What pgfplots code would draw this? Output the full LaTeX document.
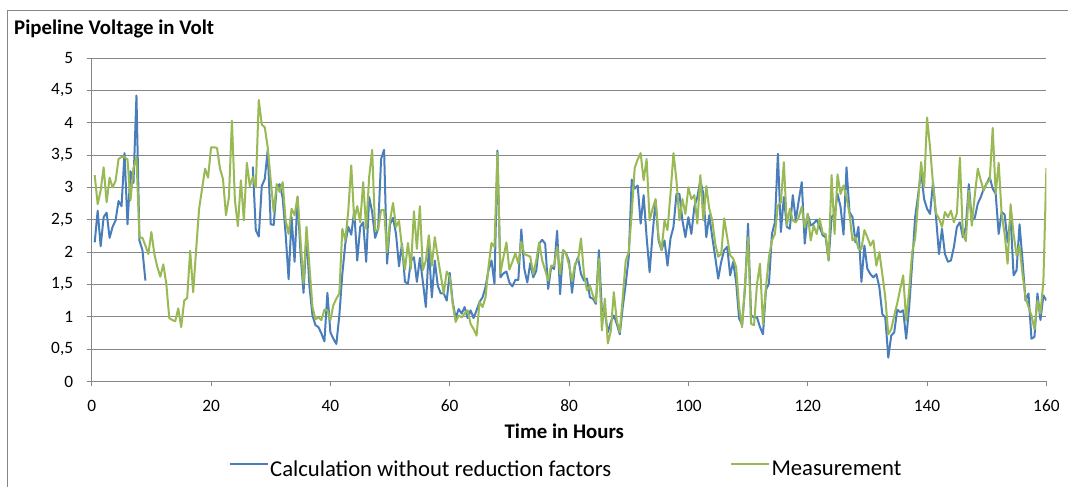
\documentclass[border=0pt]{standalone}
\usepackage{fontspec}
\setmainfont{Carlito}
\usepackage{pgfplots}
\pgfplotsset{compat=1.18}
\definecolor{serblue}{HTML}{4A7EBB}
\definecolor{sergreen}{HTML}{98B954}
\definecolor{axgray}{HTML}{868686}
\begin{document}
\begin{tikzpicture}
\path[use as bounding box, fill=white] (-68.78pt,-79.1pt) rectangle (732.2pt,286.1pt);
\draw[axgray, line width=0.75pt] (-63.3pt,-79.1pt) -- (-63.3pt,278.6pt) -- (732.2pt,278.6pt);
\begin{axis}[
  at={(0,0)}, anchor=south west,
  scale only axis, width=716pt, height=242.6pt,
  xmin=0, xmax=160, ymin=0, ymax=5,
  xtick={0,20,...,160}, ytick={0,0.5,...,5},
  axis lines*=left,
  axis line style={axgray, line width=0.75pt, -},
  tick align=outside, major tick length=3.75pt,
  tick style={axgray, line width=0.75pt},
  ymajorgrids, grid style={axgray, line width=0.75pt},
  /pgf/number format/assume math mode=true,
  /pgf/number format/use comma,
  ticklabel style={font=\fontsize{13}{15}\selectfont, inner sep=0pt},
  xticklabel shift=10pt, yticklabel shift=10pt,
  xlabel={Time in Hours},
  xlabel style={at={(rel axis cs:0.495,0)}, anchor=base, yshift=-42.4pt, font=\bfseries\fontsize{15.6}{18}\selectfont},
  legend columns=2,
  legend style={draw=none, fill=none, at={(rel axis cs:0.1438,0)}, anchor=west, yshift=-66pt,
    font=\fontsize{17}{19}\selectfont, inner sep=0pt,
    nodes={inner sep=1pt},
    /tikz/every even column/.append style={column sep=88.5pt}},
  legend image code/.code={\draw[#1, line width=1.2pt] (0pt,4pt) -- (28.5pt,4pt);},
  every axis plot/.append style={line width=1.5pt, line join=round},
]
\addplot[serblue, no marks, forget plot] coordinates {
(0.5,2.15) (1,2.64) (1.5,2.09) (2,2.54) (2.5,2.61) (3,2.22) (3.5,2.39) (4,2.49) (4.5,2.79) (5,2.71)
(5.5,3.53) (6,2.43) (6.5,3.25) (7,3.07) (7.5,4.42) (8,2.18) (8.5,2.03) (9,1.56)
};
\addplot[serblue, no marks] coordinates {
(27,3.32) (27.5,2.34) (28,2.24) (28.5,3.02) (29,3.13) (29.5,3.58) (30,2.43) (30.5,2.42) (31,3.00) (31.5,3.05)
(32,2.84) (32.5,2.28) (33,1.58) (33.5,2.54) (34,1.85) (34.5,2.85) (35,1.97) (35.5,1.37) (36,2.28) (36.5,1.46)
(37,1.02) (37.5,0.87) (38,0.84) (38.5,0.74) (39,0.62) (39.5,1.37) (40,0.76) (40.5,0.66) (41,0.58) (41.5,1.02)
(42,1.66) (42.5,2.13) (43,2.39) (43.5,2.27) (44,2.64) (44.5,1.87) (45,2.39) (45.5,2.46) (46,1.85) (46.5,2.85)
(47,2.62) (47.5,2.22) (48,2.36) (48.5,3.44) (49,3.58) (49.5,1.82) (50,2.43) (50.5,2.53) (51,2.28) (51.5,1.78)
(52,2.13) (52.5,1.54) (53,1.51) (53.5,1.87) (54,1.92) (54.5,1.54) (55,1.91) (55.5,1.54) (56,1.15) (56.5,2.08)
(57,1.30) (57.5,1.87) (58,1.48) (58.5,1.36) (59,1.36) (59.5,1.25) (60,1.68) (60.5,1.23) (61,0.98) (61.5,1.12)
(62,1.05) (62.5,1.15) (63,0.98) (63.5,1.10) (64,0.98) (64.5,1.10) (65,1.23) (65.5,1.30) (66,1.46) (66.5,1.72)
(67,1.87) (67.5,1.51) (68,3.57) (68.5,1.61) (69,1.67) (69.5,1.70) (70,1.53) (70.5,1.47) (71,1.57) (71.5,1.57)
(72,2.35) (72.5,1.74) (73,1.53) (73.5,1.83) (74,1.61) (74.5,1.71) (75,2.13) (75.5,2.19) (76,2.13) (76.5,1.43)
(77,1.77) (77.5,1.74) (78,2.33) (78.5,1.35) (79,2.03) (79.5,1.98) (80,1.86) (80.5,1.37) (81,1.79) (81.5,1.92)
(82,1.66) (82.5,1.56) (83,1.59) (83.5,1.30) (84,1.28) (84.5,1.20) (85,2.03) (85.5,1.10) (86,1.07) (86.5,0.76)
(87,0.92) (87.5,1.02) (88,0.89) (88.5,0.73) (89,1.15) (89.5,1.51) (90,1.92) (90.5,3.12) (91,2.98) (91.5,3.03)
(92,2.44) (92.5,2.88) (93,2.23) (93.5,1.69) (94,2.28) (94.5,2.80) (95,2.18) (95.5,2.03) (96,2.18) (96.5,1.79)
(97,2.21) (97.5,2.39) (98,2.90) (98.5,2.90) (99,2.49) (99.5,2.23) (100,2.54) (100.5,2.28) (101,2.70) (101.5,2.85)
(102,3.11) (102.5,2.90) (103,2.23) (103.5,2.57) (104,2.23) (104.5,1.92) (105,1.59) (105.5,1.85) (106,2.03) (106.5,2.08)
(107,1.64) (107.5,1.85) (108,1.54) (108.5,0.97) (109,0.88) (109.5,1.46) (110,2.44) (110.5,1.02) (111,0.99) (111.5,0.99)
(112,0.84) (112.5,0.73) (113,1.42) (113.5,1.51) (114,2.28) (114.5,2.46) (115,3.52) (115.5,2.31) (116,2.85) (116.5,2.39)
(117,2.36) (117.5,2.88) (118,2.49) (118.5,2.80) (119,3.08) (119.5,2.13) (120,2.59) (120.5,2.41) (121,2.44) (121.5,2.50)
(122,2.39) (122.5,2.26) (123,2.23) (123.5,1.87) (124,2.54) (124.5,2.60) (125,2.90) (125.5,2.70) (126,2.27) (126.5,3.31)
(127,2.62) (127.5,2.54) (128,2.15) (128.5,2.39) (129,1.54) (129.5,2.10) (130,1.74) (130.5,1.66) (131,1.61) (131.5,1.66)
(132,1.46) (132.5,1.04) (133,0.99) (133.5,0.37) (134,0.71) (134.5,0.76) (135,1.11) (135.5,1.07) (136,1.10) (136.5,0.66)
(137,1.15) (137.5,1.82) (138,2.54) (138.5,2.88) (139,3.26) (139.5,2.82) (140,2.67) (140.5,2.59) (141,3.08) (141.5,2.54)
(142,1.97) (142.5,2.36) (143,1.97) (143.5,1.85) (144,1.87) (144.5,2.08) (145,2.39) (145.5,2.46) (146,2.23) (146.5,2.39)
(147,3.05) (147.5,2.49) (148,2.53) (148.5,2.75) (149,2.85) (149.5,2.98) (150,3.06) (150.5,3.16) (151,2.98) (151.5,2.90)
(152,2.28) (152.5,2.62) (153,2.58) (153.5,2.15) (154,2.54) (154.5,1.64) (155,1.72) (155.5,2.43) (156,1.87) (156.5,1.25)
(157,1.36) (157.5,0.66) (158,0.69) (158.5,1.36) (159,0.95) (159.5,1.33) (160,1.25)
};
\addlegendentry{Calculation without reduction factors}
\addplot[sergreen, no marks] coordinates {
(0.5,3.19) (1,2.74) (1.5,2.95) (2,3.31) (2.5,2.77) (3,3.15) (3.5,3.00) (4,3.10) (4.5,3.44) (5,3.47)
(5.5,3.47) (6,3.43) (6.5,2.80) (7,3.30) (7.5,3.47) (8,2.23) (8.5,2.22) (9,2.10) (9.5,1.97) (10,2.31)
(10.5,1.97) (11,1.77) (11.5,1.62) (12,1.81) (12.5,1.51) (13,0.98) (13.5,0.95) (14,0.93) (14.5,1.13) (15,0.84)
(15.5,1.25) (16,1.29) (16.5,2.02) (17,1.38) (17.5,2.03) (18,2.67) (18.5,2.98) (19,3.29) (19.5,3.15) (20,3.62)
(20.5,3.62) (21,3.61) (21.5,3.29) (22,3.13) (22.5,2.57) (23,2.85) (23.5,4.03) (24,2.80) (24.5,2.40) (25,3.11)
(25.5,2.49) (26,3.38) (26.5,3.02) (27,3.16) (27.5,3.00) (28,4.35) (28.5,3.97) (29,3.93) (29.5,3.62) (30,3.11)
(30.5,2.62) (31,3.05) (31.5,2.93) (32,3.08) (32.5,2.49) (33,2.28) (33.5,2.67) (34,2.57) (34.5,2.86) (35,2.18)
(35.5,1.52) (36,2.39) (36.5,1.77) (37,1.15) (37.5,0.96) (38,0.99) (38.5,0.95) (39,1.11) (39.5,1.10) (40,0.95)
(40.5,1.18) (41,1.28) (41.5,1.36) (42,2.36) (42.5,2.18) (43,2.64) (43.5,3.34) (44,2.49) (44.5,2.71) (45,2.46)
(45.5,3.08) (46,2.36) (46.5,3.16) (47,3.58) (47.5,2.34) (48,2.34) (48.5,2.65) (49,2.65) (49.5,2.00) (50,2.49)
(50.5,2.76) (51,2.39) (51.5,2.48) (52,2.08) (52.5,1.73) (53,2.14) (53.5,1.74) (54,2.63) (54.5,2.05) (55,2.71)
(55.5,1.72) (56,1.87) (56.5,2.26) (57,1.79) (57.5,2.23) (58,1.92) (58.5,1.64) (59,1.36) (59.5,1.70) (60,1.61)
(60.5,1.20) (61,0.92) (61.5,1.02) (62,0.99) (62.5,1.05) (63,1.10) (63.5,0.89) (64,0.81) (64.5,0.71) (65,1.23)
(65.5,1.15) (66,1.30) (66.5,1.77) (67,2.14) (67.5,2.08) (68,3.53) (68.5,1.68) (69,1.92) (69.5,2.15) (70,1.73)
(70.5,1.85) (71,1.98) (71.5,1.82) (72,2.16) (72.5,1.97) (73,1.95) (73.5,1.93) (74,1.66) (74.5,1.87) (75,2.15)
(75.5,1.87) (76,1.72) (76.5,1.56) (77,1.79) (77.5,1.79) (78,2.08) (78.5,1.66) (79,2.03) (79.5,1.97) (80,1.80)
(80.5,1.55) (81,1.82) (81.5,1.87) (82,2.21) (82.5,1.66) (83,1.41) (83.5,1.48) (84,1.33) (84.5,1.23) (85,1.90)
(85.5,0.79) (86,1.28) (86.5,0.59) (87,0.78) (87.5,1.38) (88,0.94) (88.5,0.76) (89,1.30) (89.5,1.87) (90,2.00)
(90.5,2.59) (91,3.30) (91.5,3.43) (92,3.53) (92.5,3.11) (93,3.44) (93.5,2.49) (94,2.67) (94.5,2.82) (95,2.23)
(95.5,2.03) (96,2.49) (96.5,2.34) (97,2.90) (97.5,3.53) (98,3.11) (98.5,2.49) (99,2.82) (99.5,2.59) (100,3.00)
(100.5,2.82) (101,2.88) (101.5,2.44) (102,3.19) (102.5,2.49) (103,3.02) (103.5,2.67) (104,2.49) (104.5,2.13) (105,1.93)
(105.5,1.97) (106,2.52) (106.5,2.23) (107,1.95) (107.5,1.90) (108,1.77) (108.5,1.15) (109,0.84) (109.5,1.51) (110,2.23)
(110.5,0.89) (111,0.87) (111.5,1.51) (112,1.82) (112.5,0.89) (113,1.46) (113.5,1.92) (114,2.18) (114.5,2.28) (115,2.72)
(115.5,2.77) (116,3.39) (116.5,2.41) (117,2.67) (117.5,2.49) (118,2.46) (118.5,2.54) (119,2.70) (119.5,2.38) (120,2.59)
(120.5,2.18) (121,2.41) (121.5,2.28) (122,2.52) (122.5,2.29) (123,2.28) (123.5,1.87) (124,3.19) (124.5,2.28) (125,3.20)
(125.5,2.90) (126,3.03) (126.5,2.85) (127,2.59) (127.5,2.18) (128,2.23) (128.5,2.05) (129,2.05) (129.5,2.34) (130,2.23)
(130.5,2.10) (131,2.18) (131.5,1.79) (132,2.00) (132.5,1.66) (133,1.30) (133.5,0.73) (134,0.81) (134.5,1.02) (135,1.21)
(135.5,1.43) (136,1.64) (136.5,0.94) (137,1.41) (137.5,2.00) (138,2.21) (138.5,2.77) (139,3.39) (139.5,3.00) (140,4.08)
(140.5,3.62) (141,3.05) (141.5,2.60) (142,2.52) (142.5,2.39) (143,2.62) (143.5,2.54) (144,2.64) (144.5,2.46) (145,2.60)
(145.5,3.46) (146,2.28) (146.5,2.17) (147,2.95) (147.5,2.41) (148,2.88) (148.5,3.29) (149,3.11) (149.5,2.95) (150,3.07)
(150.5,3.11) (151,3.92) (151.5,2.90) (152,3.38) (152.5,2.59) (153,2.28) (153.5,1.82) (154,2.74) (154.5,2.28) (155,1.95)
(155.5,2.10) (156,1.66) (156.5,1.30) (157,1.15) (157.5,1.02) (158,0.81) (158.5,1.25) (159,1.05) (159.5,1.56) (160,3.30)
};
\addlegendentry{Measurement}
\end{axis}
\node[anchor=base west, font=\bfseries\fontsize{15.6}{18}\selectfont, inner sep=0pt] at (-58.3pt,260.6pt) {Pipeline Voltage in Volt};
\end{tikzpicture}
\end{document}
